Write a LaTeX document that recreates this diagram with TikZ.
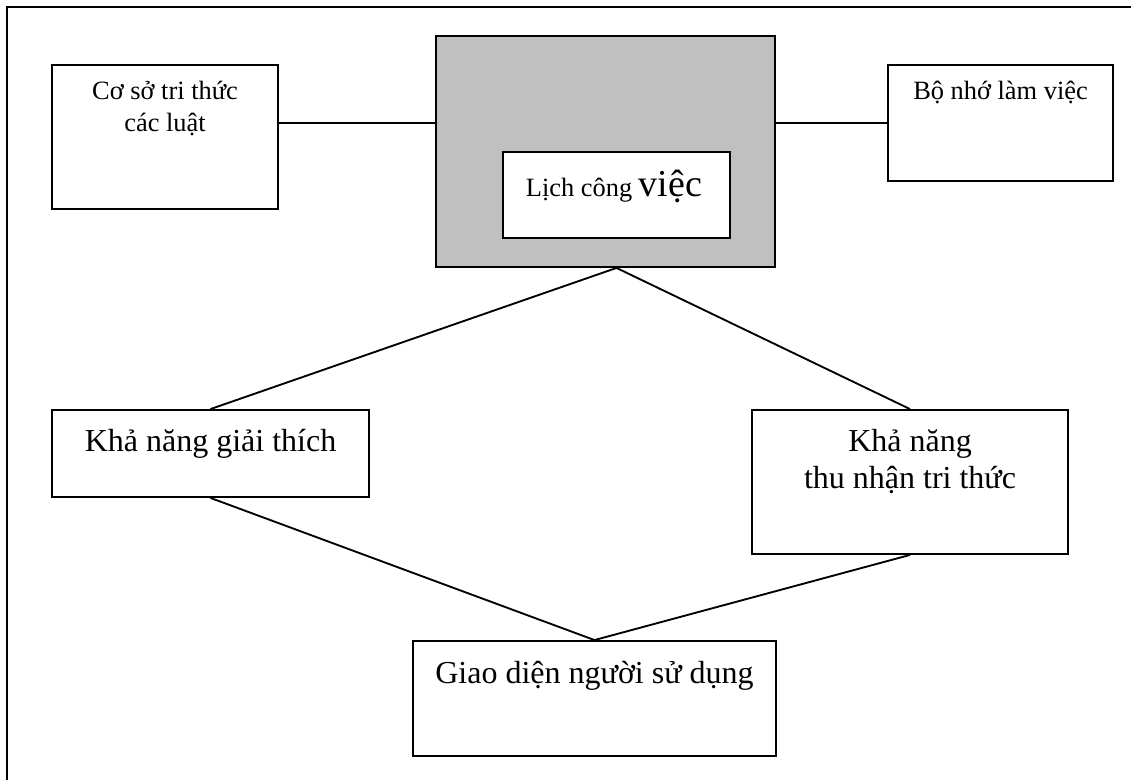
\documentclass[tikz,border=0pt]{standalone}
\usepackage{fontspec}
\setmainfont{Liberation Serif}
\definecolor{panelgray}{HTML}{C0C0C0}
\tikzset{
	box/.style 2 args={draw, minimum width=#1*0.75pt, minimum height=#2*0.75pt, inner sep=0pt},
	txt/.style={font=\fontsize{19.8}{24}\selectfont, align=center, inner sep=0pt, anchor=base},
	bigtxt/.style={font=\fontsize{24}{27.75}\selectfont, align=center, inner sep=0pt, anchor=base},
}
\begin{document}
\begin{tikzpicture}[x=0.75pt,y=-0.75pt,line width=1.4pt]
		\useasboundingbox (0,0) rectangle (1131,780);
		\draw (7,780) -- (7,7) -- (1131,7);
		\node[box={226}{144}] (kb) at(165,137) {};
		\node[box={339}{231}, fill=panelgray] (engine) at(605.5,151.5) {};
		\node[box={227}{86}, fill=white] (agenda) at(616.5,195) {};
		\node[box={225}{116}] (wm) at(1000.5,123) {};
		\node[box={317}{87}] (expl) at(210.5,453.5) {};
		\node[box={316}{144}] (acq) at(910,482) {};
		\node[box={363}{115}] (ui) at(594.5,698.5) {};
		\node[txt] (kbtext) at(165,132) {Cơ sở tri thức\\các luật};
		\node[txt] (agendatext) at(614,197) {Lịch công {\fontsize{28.5}{30}\selectfont việc}};
		\node[txt] (wmtext) at(1000.5,100) {Bộ nhớ làm việc};
		\node[bigtxt] (expltext) at(210.5,451) {Khả năng giải thích};
		\node[bigtxt] (acqtext) at(910,488) {Khả năng\\thu nhận tri thức};
		\node[bigtxt] (uitext) at(594.5,683) {Giao diện người sử dụng};
		\draw (kb.east |- wm.west) -- (engine.west |- wm.west);
		\draw (engine.east |- wm.west) -- (wm.west);
		\draw (expl.north) -- (agenda |- engine.south) -- (acq.north);
		\draw (expl.south) -- (ui.north) -- (acq.south);
	\end{tikzpicture}
\end{document}
